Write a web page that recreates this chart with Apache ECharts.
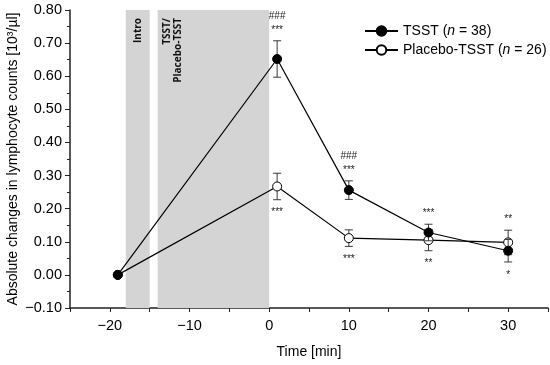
<!DOCTYPE html>
<html>
<head>
<meta charset="utf-8">
<script src="https://cdn.jsdelivr.net/npm/echarts@6/dist/echarts.min.js"></script>
<style>html,body{margin:0;padding:0;background:#fff}#c{width:550px;height:365px}</style>
</head>
<body>
<div id="c"></div>
<script>
// ---- data ----
const times = [-19, 1, 10, 20, 30];
const tsstValues = [0.000, 0.652, 0.256, 0.128, 0.073];
const tsstErrors = [0, 0.055, 0.028, 0.025, 0.034];
const placeboValues = [0.000, 0.267, 0.111, 0.105, 0.098];
const placeboErrors = [0, 0.040, 0.025, 0.032, 0.037];
const tsstSig = ['', '###\n***', '###\n***', '***', '*'];
const tsstSigSide = ['', 'top', 'top', 'top', 'bottom'];
const placeboSig = ['', '***', '***', '**', '**'];
const placeboSigSide = ['', 'bottom', 'bottom', 'bottom', 'top'];
const phaseStart = [-18, -14];
const phaseEnd = [-15, 0];
const phaseLabels = ['Intro', 'TSST/\nPlacebo-TSST'];
const xTickLabels = [-20, -10, 0, 10, 20, 30];
const yMin = -0.1, yMax = 0.8, yStep = 0.1;
const xMin = -25, xMax = 35, xStep = 5;

const FONT = 'Liberation Sans, Arial, sans-serif';
const chart = echarts.init(document.getElementById('c'), null, {renderer: 'canvas'});

function minus(s) { return String(s).replace('-', '\u2212'); }

const bandData = phaseStart.map((s, i) => [s, phaseEnd[i], i]);
const errData = (vals, errs) => times.map((t, i) => [t, vals[i], errs[i]]);
const sigData = (vals, errs, txt, side) => times.map((t, i) => [t, vals[i], errs[i], txt[i], side[i]]);

function errRender(params, api) {
  const x = api.value(0), y = api.value(1), e = api.value(2);
  if (!e) return null;
  const top = api.coord([x, y + e]);
  const bot = api.coord([x, y - e]);
  const cap = 4;
  const st = {stroke: '#3a3a3a', lineWidth: 1};
  return {type: 'group', children: [
    {type: 'line', shape: {x1: top[0], y1: top[1], x2: bot[0], y2: bot[1]}, style: st},
    {type: 'line', shape: {x1: top[0] - cap, y1: top[1], x2: top[0] + cap, y2: top[1]}, style: st},
    {type: 'line', shape: {x1: bot[0] - cap, y1: bot[1], x2: bot[0] + cap, y2: bot[1]}, style: st}
  ]};
}

function sigRender(params, api) {
  const x = api.value(0), y = api.value(1), e = api.value(2);
  const txt = api.value(3), side = api.value(4);
  if (!txt) return null;
  const isTop = side === 'top';
  const p = api.coord([x, isTop ? y + e : y - e]);
  return {type: 'text', x: p[0], y: isTop ? p[1] - 4 : p[1] + 6,
    style: {text: txt, fill: '#222', font: '10px ' + FONT, lineHeight: 14,
      align: 'center', verticalAlign: isTop ? 'bottom' : 'top'}};
}

function bandRender(params, api) {
  const s = api.value(0), e = api.value(1), idx = api.value(2);
  const p1 = api.coord([s, yMax]);
  const p2 = api.coord([e, yMin]);
  return {type: 'group', children: [
    {type: 'rect', shape: {x: p1[0], y: p1[1], width: p2[0] - p1[0], height: p2[1] - p1[1]},
      style: {fill: '#d4d4d4'}},
    {type: 'text', x: idx === 0 ? (p1[0] + p2[0]) / 2 : p1[0] + 4, y: p1[1] + 8, rotation: Math.PI / 2,
      style: {text: phaseLabels[idx], fill: '#111', font: 'bold 10px "Open Sans", sans-serif',
        lineHeight: 11, align: 'right', verticalAlign: idx === 0 ? 'middle' : 'top'}}
  ]};
}

const option = {
  animation: false,
  grid: {left: 70, top: 10, right: 2, bottom: 57, containLabel: false, outerBoundsMode: 'none'},
  legend: {
    left: 359, top: 19, orient: 'vertical', itemWidth: 33, itemHeight: 12, itemGap: 5,
    data: ['TSST', 'Placebo'],
    formatter: n => n === 'TSST' ? '{t|TSST (}{i|n}{t| = 38)}' : '{t|Placebo-TSST (}{i|n}{t| = 26)}',
    textStyle: {rich: {
      t: {fontFamily: FONT, fontSize: 14, color: '#000'},
      i: {fontFamily: FONT, fontSize: 14, color: '#000', fontStyle: 'italic'}
    }}
  },
  xAxis: {
    type: 'value', min: xMin, max: xMax, interval: xStep,
    name: 'Time [min]', nameLocation: 'middle', nameGap: 37, nameMoveOverlap: false,
    nameTextStyle: {fontFamily: FONT, fontSize: 14, color: '#000'},
    axisLine: {onZero: false, lineStyle: {color: '#222', width: 1.5}},
    axisTick: {length: 4, lineStyle: {color: '#222'}},
    axisLabel: {fontFamily: FONT, fontSize: 14.5, color: '#000', margin: 10,
      formatter: v => xTickLabels.indexOf(v) >= 0 ? minus(v) : ''},
    splitLine: {show: false}
  },
  yAxis: {
    type: 'value', min: yMin, max: yMax, interval: yStep,
    name: 'Absolute changes in lymphocyte counts [10³/µl]', nameLocation: 'middle', nameGap: 50,
    nameMoveOverlap: false,
    nameTextStyle: {fontFamily: FONT, fontSize: 14, color: '#000'},
    axisLine: {show: true, onZero: false, lineStyle: {color: '#222', width: 1.5}},
    axisTick: {show: true, length: 5, lineStyle: {color: '#222'}},
    minorTick: {show: true, splitNumber: 2, length: 3, lineStyle: {color: '#222'}},
    axisLabel: {fontFamily: FONT, fontSize: 14.5, color: '#000', margin: 8,
      formatter: v => minus(v.toFixed(2))},
    splitLine: {show: false}
  },
  series: [
    {type: 'custom', name: 'bands', renderItem: bandRender, data: bandData, z: 1, silent: true},
    {type: 'line', name: 'Placebo', data: times.map((t, i) => [t, placeboValues[i]]),
      symbol: 'circle', symbolSize: 9, z: 3,
      lineStyle: {color: '#000', width: 1.2},
      itemStyle: {color: '#fff', borderColor: '#000', borderWidth: 1}},
    {type: 'custom', name: 'placeboErr', renderItem: errRender, data: errData(placeboValues, placeboErrors), z: 2},
    {type: 'line', name: 'TSST', data: times.map((t, i) => [t, tsstValues[i]]),
      symbol: 'circle', symbolSize: 9, z: 5,
      lineStyle: {color: '#000', width: 1.2},
      itemStyle: {color: '#000', borderColor: '#000', borderWidth: 1}},
    {type: 'custom', name: 'tsstErr', renderItem: errRender, data: errData(tsstValues, tsstErrors), z: 4},
    {type: 'custom', name: 'tsstSig', renderItem: sigRender, data: sigData(tsstValues, tsstErrors, tsstSig, tsstSigSide), z: 6},
    {type: 'custom', name: 'placeboSig', renderItem: sigRender, data: sigData(placeboValues, placeboErrors, placeboSig, placeboSigSide), z: 6}
  ]
};
chart.setOption(option);
</script>
</body>
</html>
